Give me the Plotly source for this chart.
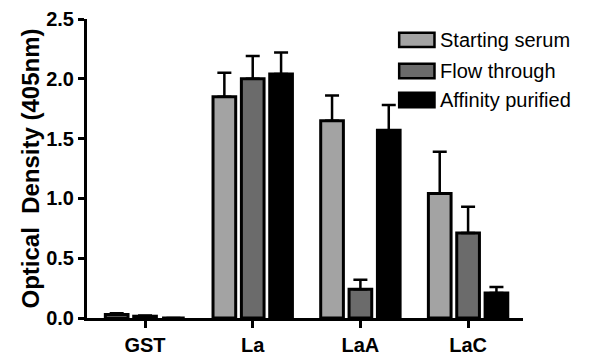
import plotly.graph_objects as go

categories = ["GST", "La", "LaA", "LaC"]
series_names = ["Starting serum", "Flow through", "Affinity purified"]
starting_serum = [0.03, 1.85, 1.65, 1.04]
starting_serum_err = [0.01, 0.20, 0.21, 0.35]
flow_through = [0.015, 2.00, 0.24, 0.71]
flow_through_err = [0.005, 0.19, 0.08, 0.22]
affinity_purified = [0.0, 2.04, 1.57, 0.21]
affinity_purified_err = [0.0, 0.18, 0.21, 0.05]
y_ticks = [0.0, 0.5, 1.0, 1.5, 2.0, 2.5]

colors = ["#a3a3a3", "#6b6b6b", "#000000"]
FONT = "Liberation Sans, Arial, sans-serif"

fig = go.Figure()
for name, vals, errs, col in zip(series_names,
                                 [starting_serum, flow_through, affinity_purified],
                                 [starting_serum_err, flow_through_err, affinity_purified_err],
                                 colors):
    fig.add_trace(go.Bar(
        x=categories, y=vals, name=name, showlegend=False,
        marker=dict(color=col, line=dict(color="black", width=3)),
        error_y=dict(type="data", symmetric=False, array=errs,
                     arrayminus=[0] * len(errs), color="black",
                     thickness=2.5, width=7),
    ))

# manual legend (wide swatches like the original)
leg_y = [0.930, 0.826, 0.729]
for name, col, yc in zip(series_names, colors, leg_y):
    fig.add_shape(type="rect", xref="paper", yref="paper",
                  x0=0.716, x1=0.797, y0=yc - 0.024, y1=yc + 0.024,
                  fillcolor=col, line=dict(color="black", width=2.5))
    fig.add_annotation(xref="paper", yref="paper", x=0.806, y=yc, text=name,
                       xanchor="left", yanchor="middle", showarrow=False,
                       font=dict(size=20, family=FONT, color="black"))

fig.update_layout(
    template="none",
    width=590, height=350,
    margin=dict(l=79, r=75, t=11, b=40),
    paper_bgcolor="white", plot_bgcolor="white",
    barmode="group", bargap=0.21, bargroupgap=0.2,
    font=dict(family=FONT, color="black"),
    xaxis=dict(range=[-0.539, 3.51], showline=True, linecolor="black", linewidth=3,
               ticks="outside", ticklen=7, tickwidth=3, tickcolor="black",
               tickfont=dict(size=20, family=FONT), showgrid=False, zeroline=False,
               automargin=False, tickvals=categories,
               ticktext=[f"<b>{c}</b>" for c in categories]),
    yaxis=dict(range=[0, 2.5], tickvals=y_ticks, ticktext=[f"<b>{v:.1f}</b>" for v in y_ticks],
               showline=True, linecolor="black", linewidth=3,
               ticks="outside", ticklen=6, tickwidth=3, tickcolor="black",
               tickfont=dict(size=20, family=FONT), showgrid=False, zeroline=False,
               automargin=False, ticklabeloverflow="allow",
               title=dict(text="<b>Optical&nbsp; Density (405nm)</b>",
                          font=dict(size=24, family=FONT), standoff=0)),
)

fig.write_html("out.html")
